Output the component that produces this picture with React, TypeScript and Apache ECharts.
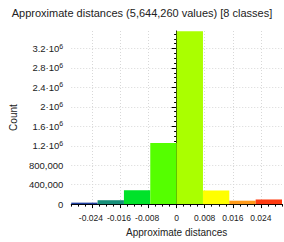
import React, { useEffect, useRef } from "react";
import * as echarts from "echarts";

const title = "Approximate distances (5,644,260 values) [8 classes]";
const xName = "Approximate distances";
const yName = "Count";
// class edges (8 classes between min and max distance)
const binEdges = [-0.03, -0.0225, -0.015, -0.0075, 0, 0.0075, 0.015, 0.0225, 0.03];
const binCounts = [30000, 80000, 285000, 1255000, 3555000, 280000, 70000, 95000];
const binColors = ["#1f3f9f", "#17907a", "#00e22a", "#55ff00", "#aaff00", "#ffff00", "#ff9a1a", "#ff3a10"];
const xTicks = [-0.024, -0.016, -0.008, 0, 0.008, 0.016, 0.024];
const yTicks = [0, 400000, 800000, 1200000, 1600000, 2000000, 2400000, 2800000, 3200000];
const xMin = -0.03;
const xMax = 0.03;
const yMax = 3560000;

const xMinor: number[] = [];
for (let i = -15; i <= 15; i++) xMinor.push(Math.round(i * 0.002 * 1e6) / 1e6);
const yMinor: number[] = [];
for (let i = 0; i <= 35; i++) yMinor.push(i * 100000);

const FONT = "Liberation Sans";

function fmtY(v: number): any {
  if (v < 1000000) return v.toLocaleString("en-US");
  const m = Math.round((v / 1000000) * 10) / 10;
  return `${m}·10{s|6}`;
}

function fmtX(v: number): any {
  const r = Math.round(v * 1000) / 1000;
  if (r < 0) return `-${Math.abs(r)}{h|-}`;
  return String(r);
}

export default function App() {
  const ref = useRef<HTMLDivElement>(null);
  useEffect(() => {
    if (!ref.current) return;
    const chart = echarts.init(ref.current, null, { renderer: "svg" });
    const data = binCounts.map((c, i) => [binEdges[i], binEdges[i + 1], c, i]);
    chart.setOption({
      animation: false,
      title: {
        text: title,
        left: "center",
        top: 2,
        textStyle: { fontFamily: FONT, fontSize: 11, fontWeight: "normal", color: "#222" },
      },
      grid: { left: 60, right: 2, top: 31, bottom: 33.5, containLabel: false },
      xAxis: [
        {
          type: "value",
          min: xMin,
          max: xMax,
          position: "bottom",
          name: xName,
          nameLocation: "middle",
          nameGap: 19,
          nameTextStyle: { fontFamily: FONT, fontSize: 10, color: "#222" },
          axisLine: { show: true, onZero: false, lineStyle: { color: "#000", width: 1 } },
          axisTick: { show: true, length: 4, customValues: xTicks, lineStyle: { color: "#000" } },
          axisLabel: {
            customValues: xTicks,
            showMinLabel: true,
            showMaxLabel: true,
            hideOverlap: false,
            margin: 9,
            fontFamily: FONT,
            fontSize: 8.5,
            color: "#222",
            formatter: fmtX,
            rich: { h: { fontFamily: FONT, fontSize: 8.5, color: "rgba(0,0,0,0)" } },
          },
          splitLine: { show: true, lineStyle: { color: "#d8d8d8", type: [1, 2] } },
        },
        {
          type: "value",
          min: xMin,
          max: xMax,
          position: "bottom",
          axisLine: { show: false, onZero: false },
          axisTick: { show: true, length: 2.5, customValues: xMinor, lineStyle: { color: "#000" } },
          axisLabel: { show: false },
          splitLine: { show: false },
        },
      ],
      yAxis: [
        {
          type: "value",
          min: 0,
          max: yMax,
          position: "left",
          name: yName,
          nameLocation: "middle",
          nameGap: 53,
          nameTextStyle: { fontFamily: FONT, fontSize: 10, color: "#222" },
          axisLine: { show: true, lineStyle: { color: "#000", width: 1 } },
          axisTick: { show: true, length: 5, customValues: yTicks, lineStyle: { color: "#000" } },
          axisLabel: {
            customValues: yTicks,
            showMinLabel: true,
            margin: 8,
            fontFamily: FONT,
            fontSize: 9.5,
            color: "#222",
            formatter: fmtY,
            rich: { s: { fontFamily: FONT, fontSize: 7, color: "#222", verticalAlign: "top", padding: [0, 0, 5, 0] } },
          },
          splitLine: { show: true, lineStyle: { color: "#d8d8d8", type: [1, 2] } },
        },
        {
          type: "value",
          min: 0,
          max: yMax,
          position: "left",
          axisLine: { show: false },
          axisTick: { show: true, length: 2.5, customValues: yMinor, lineStyle: { color: "#000" } },
          axisLabel: { show: false },
          splitLine: { show: false },
        },
      ],
      series: [
        {
          type: "custom",
          xAxisIndex: 0,
          yAxisIndex: 0,
          data,
          encode: { x: [0, 1], y: 2 },
          renderItem: (params: any, api: any) => {
            const x0 = api.value(0);
            const x1 = api.value(1);
            const c = api.value(2);
            const idx = api.value(3);
            const p0 = api.coord([x0, c]);
            const p1 = api.coord([x1, 0]);
            return {
              type: "rect",
              shape: { x: p0[0], y: p0[1], width: p1[0] - p0[0], height: p1[1] - p0[1] },
              style: { fill: binColors[idx] },
            };
          },
          z: 1,
        },
      ],
    });
    return () => chart.dispose();
  }, []);
  return (
    <div
      ref={ref}
      style={{ position: "absolute", left: 0, top: 0, width: 284, height: 242 }}
    />
  );
}
